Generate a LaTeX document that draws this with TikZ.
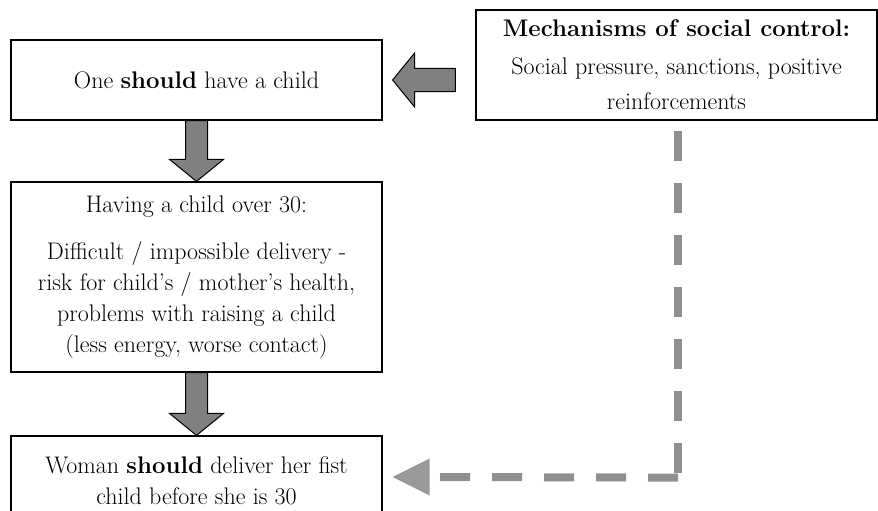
\documentclass[tikz,border=0pt]{standalone}
\usepackage{fontspec}
\usetikzlibrary{calc}
\definecolor{arrowgray}{RGB}{128,128,128}
\definecolor{dashgray}{RGB}{143,143,143}
\definecolor{tipgray}{RGB}{153,153,153}

\begin{document}
\begin{tikzpicture}[x=1pt, y=1pt]
	\tikzstyle{every node}+=[inner sep=0pt, font=\fontsize{24}{31}\selectfont]
	\tikzstyle{box}=[draw=black, line width=1.2pt, align=center]
	\tikzstyle{blockarrow}=[draw=black, fill=arrowgray, line width=1pt, line join=miter]
	\tikzstyle{dashline}=[draw=dashgray, line width=8pt, dash pattern=on 30pt off 22pt]
	\useasboundingbox (0,0) rectangle (878,-511);
	% boxes
	\node [box, minimum width=371, minimum height=80] (A) at (196.5,-80) {One \textbf{should} have a child};
	\node [box, minimum width=401, minimum height=110] (M) at (676.5,-65) {\textbf{Mechanisms of social control:}\\[7pt] Social pressure, sanctions, positive\\[4pt] reinforcements};
	\node [box, minimum width=371, minimum height=190] (B) at (196.5,-277) {Having a child over 30:\\[16pt] Difficult / impossible delivery -\\ risk for child's / mother's health,\\ problems with raising a child\\ (less energy, worse contact)};
	\node [box, minimum width=371, minimum height=90] (C) at (196.5,-481) {Woman \textbf{should} deliver her fist\\ child before she is 30};
	% block arrows
	\draw [blockarrow] ($(A.south)+(-11,0)$) -- ($(B.north)+(-11,22)$) -- ($(B.north)+(-27,22)$) -- (B.north) -- ($(B.north)+(27,22)$) -- ($(B.north)+(11,22)$) -- ($(A.south)+(11,0)$) -- cycle;
	\draw [blockarrow] ($(B.south)+(-11,0)$) -- ($(C.north)+(-11,22)$) -- ($(C.north)+(-27,22)$) -- (C.north) -- ($(C.north)+(27,22)$) -- ($(C.north)+(11,22)$) -- ($(B.south)+(11,0)$) -- cycle;
	\draw [blockarrow] ($(A.east)+(10,0)$) -- ++(22,27) -- ++(0,-15.5) -- ($(M.west |- A.east)+(-20,11.5)$) -- ++(0,-23) -- ($(A.east)+(32,-11.5)$) -- ++(0,-15.5) -- cycle;
	% dashed control line
	\coordinate (turn) at ($(M.south)+(1.5,-357)$);
	\coordinate (tip) at ($(C.east)+(10,4)$);
	\draw [dashline] ($(M.south)+(1.5,-10)$) -- ($(turn)+(0,4)$);
	\draw [dashline] (turn) -- ($(tip)+(37,0)$);
	\fill [tipgray] (tip) -- ++(37,18.5) -- ++(0,-37) -- cycle;
\end{tikzpicture}
\end{document}
